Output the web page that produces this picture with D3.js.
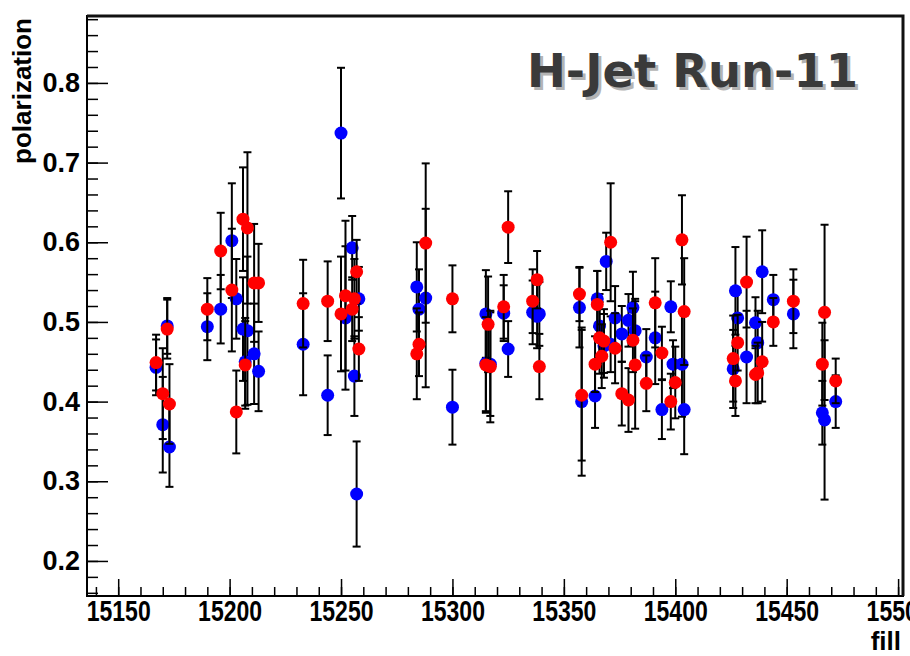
<!DOCTYPE html>
<html lang="en">
<head>
<meta charset="UTF-8" />
<title>H-Jet Run-11 polarization</title>
<style>
  * { margin:0; padding:0; box-sizing:border-box }
  body { background:#fff; width:910px; height:656px; overflow:hidden; }
  svg { display:block; }
  .tick text { font-family:'Liberation Sans','Arial',sans-serif; font-weight:700; fill:#000; }
</style>
</head>
<body>
<div id="chart"></div>
<script src="https://d3js.org/d3.v7.min.js"></script>
<script>
// ── blue beam: fill number, polarization, error
const blueFill = [15167,15170,15172,15173,
  15190,15196,15201,15203,15206,15208,15207,15211,15213,
  15233,15244,15250,15252,15255,15256,15257,15258,
  15284,15285,15288,15300,
  15315,15315,15317,15323,15325,15336,15338,15339,
  15357,15358,15364,15365,15366,15368,15369,15371,15373,15376,15379,15381,15382,15387,15391,15394,15398,15399,15403,15404,
  15426,15427,15428,15432,15436,15437,15439,15444,15453,15467,15466,15472];
const bluePol = [0.443,0.371,0.495,0.343,
  0.494,0.516,0.602,0.529,0.491,0.489,0.450,0.460,0.438,
  0.472,0.408,0.737,0.505,0.593,0.432,0.284,0.529,
  0.544,0.516,0.530,0.393,
  0.510,0.448,0.447,0.511,0.466,0.512,0.507,0.510,
  0.518,0.400,0.407,0.529,0.495,0.470,0.576,0.472,0.505,0.485,0.502,0.518,0.489,0.456,0.480,0.390,0.519,0.447,0.447,0.390,
  0.441,0.539,0.505,0.456,0.499,0.474,0.563,0.528,0.510,0.377,0.386,0.400];
const blueErr = [0.035,0.060,0.035,0.050,
  0.042,0.043,0.072,0.050,0.065,0.093,0.055,0.063,0.050,
  0.064,0.050,0.082,0.090,0.040,0.050,0.066,0.040,
  0.056,0.050,0.112,0.047,
  0.055,0.060,0.065,0.035,0.035,0.040,0.040,0.040,
  0.050,0.093,0.040,0.035,0.040,0.040,0.036,0.035,0.040,0.035,0.033,0.045,0.040,0.035,0.058,0.037,0.032,0.030,0.066,0.056,
  0.049,0.055,0.032,0.058,0.032,0.040,0.052,0.031,0.043,0.100,0.040,0.033];

// ── red beam
const redFill = [15167,15170,15172,15173,
  15190,15196,15201,15203,15206,15208,15207,15211,15213,
  15233,15244,15250,15252,15255,15256,15257,15258,
  15284,15285,15288,15300,
  15316,15315,15317,15323,15325,15336,15338,15339,
  15357,15358,15364,15365,15366,15367,15368,15371,15373,15376,15379,15381,15382,15387,15391,15394,15398,15400,15403,15404,
  15426,15427,15428,15432,15436,15437,15439,15444,15453,15467,15466,15472];
const redPol = [0.449,0.410,0.491,0.397,
  0.516,0.589,0.540,0.387,0.629,0.618,0.446,0.549,0.549,
  0.523,0.526,0.510,0.533,0.516,0.529,0.563,0.466,
  0.460,0.472,0.599,0.529,
  0.497,0.446,0.444,0.519,0.619,0.526,0.553,0.444,
  0.535,0.408,0.447,0.522,0.480,0.457,0.476,0.600,0.467,0.410,0.402,0.477,0.446,0.423,0.524,0.461,0.400,0.424,0.603,0.513,
  0.454,0.426,0.474,0.550,0.434,0.436,0.450,0.500,0.526,0.512,0.447,0.426];
const redErr = [0.035,0.057,0.037,0.050,
  0.039,0.048,0.077,0.052,0.065,0.095,0.055,0.074,0.049,
  0.055,0.050,0.072,0.094,0.040,0.050,0.040,0.040,
  0.057,0.040,0.100,0.042,
  0.060,0.060,0.070,0.040,0.045,0.040,0.036,0.041,
  0.034,0.082,0.035,0.042,0.045,0.040,0.040,0.074,0.044,0.040,0.040,0.040,0.080,0.035,0.056,0.033,0.035,0.045,0.056,0.067,
  0.054,0.044,0.035,0.057,0.036,0.038,0.050,0.030,0.040,0.110,0.052,0.028];

// ── axes
const xMajor = d3.range(15150, 15501, 50);
const xMinor = d3.range(15140, 15501, 10);
const yMajor = [0.2, 0.3, 0.4, 0.5, 0.6, 0.7, 0.8];
const yMinor = d3.range(0.16, 0.881, 0.02);

const W = 910, H = 656;
const frame = { l:87, r:903, t:16, b:596 };

const svg = d3.select("#chart").append("svg")
  .attr("width", W).attr("height", H);

const x = d3.scaleLinear().domain([15136, 15502.2]).range([frame.l, frame.r]);
const y = d3.scaleLinear().domain([0.156, 0.884]).range([frame.b, frame.t]);

// frame
svg.append("rect")
  .attr("x", frame.l).attr("y", frame.t)
  .attr("width", frame.r - frame.l).attr("height", frame.b - frame.t)
  .attr("fill", "none").attr("stroke", "#000").attr("stroke-width", 2);
svg.append("path")   // heavier top/right edge
  .attr("d", `M${frame.l},${frame.t}H${frame.r}V${frame.b}`)
  .attr("fill", "none").attr("stroke", "#111").attr("stroke-width", 3);

// x axis: minor + major ticks pointing up into the frame
svg.append("g")
  .attr("transform", `translate(0,${frame.b})`)
  .call(d3.axisBottom(x).tickValues(xMinor).tickSize(-9).tickFormat(""))
  .call(g => g.select(".domain").remove())
  .selectAll("line").attr("stroke-width", 1.5);
const gx = svg.append("g")
  .attr("transform", `translate(0,${frame.b})`)
  .call(d3.axisBottom(x).tickValues(xMajor).tickSize(-17).tickPadding(4).tickFormat(d3.format("d")));
gx.select(".domain").remove();
gx.selectAll("line").attr("stroke-width", 1.5);
gx.selectAll("text")
  .style("font-family", "'Liberation Sans Narrow','Liberation Sans',sans-serif")
  .style("font-size", "29px")
  .attr("dy", "0.71em")
  .attr("textLength", 64).attr("lengthAdjust", "spacingAndGlyphs");

// y axis
svg.append("g")
  .attr("transform", `translate(${frame.l},0)`)
  .call(d3.axisLeft(y).tickValues(yMinor).tickSize(-11).tickFormat(""))
  .call(g => g.select(".domain").remove())
  .selectAll("line").attr("stroke-width", 1.5);
const gy = svg.append("g")
  .attr("transform", `translate(${frame.l},0)`)
  .call(d3.axisLeft(y).tickValues(yMajor).tickSize(-21).tickPadding(7).tickFormat(d3.format(".1f")));
gy.select(".domain").remove();
gy.selectAll("line").attr("stroke-width", 1.5);
gy.selectAll("text").style("font-size", "27px");

// axis titles
svg.append("text")
  .attr("transform", `translate(31,${frame.t + 2}) rotate(-90)`)
  .attr("text-anchor", "end")
  .style("font-family", "'Liberation Sans',Arial,sans-serif")
  .style("font-weight", 700).style("font-size", "26px")
  .text("polarization");
svg.append("text")
  .attr("x", 901).attr("y", 650)
  .attr("text-anchor", "end")
  .style("font-family", "'Liberation Sans Narrow','Liberation Sans',sans-serif")
  .style("font-weight", 700).style("font-size", "26px")
  .text("fill");

// data: blue drawn first, red on top
function drawSeries(fills, pols, errs, color) {
  const pts = fills.map((f, i) => ({ f, p: pols[i], e: errs[i] }));
  const g = svg.append("g");
  const bars = g.selectAll("g.bar").data(pts).join("g").attr("class", "bar")
    .attr("stroke", "#000").attr("stroke-width", 2);
  bars.append("line")
    .attr("x1", d => x(d.f)).attr("x2", d => x(d.f))
    .attr("y1", d => y(d.p - d.e)).attr("y2", d => y(d.p + d.e));
  bars.append("line")
    .attr("x1", d => x(d.f) - 4).attr("x2", d => x(d.f) + 4)
    .attr("y1", d => y(d.p + d.e)).attr("y2", d => y(d.p + d.e));
  bars.append("line")
    .attr("x1", d => x(d.f) - 4).attr("x2", d => x(d.f) + 4)
    .attr("y1", d => y(d.p - d.e)).attr("y2", d => y(d.p - d.e));
  g.selectAll("circle").data(pts).join("circle")
    .attr("cx", d => x(d.f)).attr("cy", d => y(d.p))
    .attr("r", 6.5).attr("fill", color);
}
drawSeries(blueFill, bluePol, blueErr, "#0000ff");
drawSeries(redFill, redPol, redErr, "#ff0000");

// title with drop shadow
const title = "H-Jet Run-11";
[["#b4b4b4", 3], ["#3a3a3a", 0]].forEach(([c, o]) => {
  svg.append("text")
    .attr("x", 527 + o).attr("y", 87 + o)
    .attr("textLength", 331).attr("lengthAdjust", "spacingAndGlyphs")
    .style("font-family", "'DejaVu Sans',sans-serif")
    .style("font-weight", 700).style("font-size", "46px")
    .attr("fill", c)
    .text(title);
});
</script>
</body>
</html>
